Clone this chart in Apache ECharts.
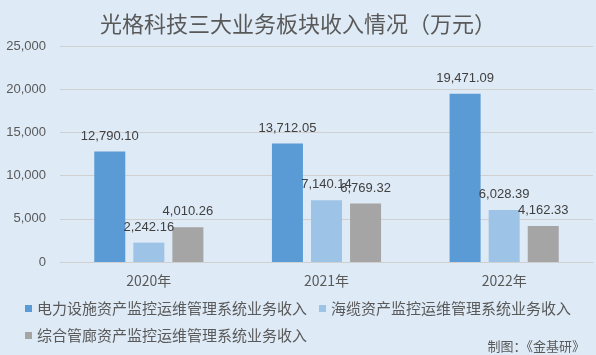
<!DOCTYPE html>
<html><head><meta charset="utf-8">
<script src="https://cdn.jsdelivr.net/npm/echarts@6/dist/echarts.min.js"></script>
<style>html,body{margin:0;padding:0;background:#deeaf6;}#c{width:596px;height:355px;}</style>
</head><body><div id="c"></div>
<script>
var categories = ['2020年', '2021年', '2022年'];
var seriesNames = ['电力设施资产监控运维管理系统业务收入', '海缆资产监控运维管理系统业务收入', '综合管廊资产监控运维管理系统业务收入'];
var powerValues = [12790.10, 13712.05, 19471.09];
var cableValues = [2242.16, 7140.14, 6028.39];
var tunnelValues = [4010.26, 6769.32, 4162.33];
var colors = ['#5b9bd5', '#9dc3e6', '#a5a5a5'];

var fontCN = '"Noto Sans CJK SC", "Microsoft YaHei", sans-serif';
var fontNum = '"Liberation Sans", Arial, sans-serif';
function fmt(v){ return v.toLocaleString('en-US',{minimumFractionDigits:2, maximumFractionDigits:2}); }
function mk(i, data){
  return {name: seriesNames[i], type:'bar', data:data, barWidth:31, barGap:'26%',
    itemStyle:{color:colors[i]},
    label:{show:true, position:'top', distance:9, color:'#404040', fontSize:13, fontFamily:fontNum,
      formatter:function(p){return fmt(p.value);}}};
}
var chart = echarts.init(document.getElementById('c'));
chart.setOption({
  backgroundColor:'#deeaf6',
  animation:false,
  title:[{text:'光格科技三大业务板块收入情况（万元）', left:'center', top:8,
    textStyle:{fontSize:22, fontWeight:'normal', color:'#595959', fontFamily:fontCN}},
    {text:'制图：《金基研》', right:6, top:335, textStyle:{fontSize:13, fontWeight:'normal', color:'#595959', fontFamily:fontCN}}],
  legend:[{data:[seriesNames[0], seriesNames[1]], left:20, top:296, itemWidth:7, itemHeight:7, icon:'rect', itemGap:12,
    textStyle:{fontSize:15, color:'#595959', fontFamily:fontCN}},
    {data:[seriesNames[2]], left:20, top:323, itemWidth:7, itemHeight:7, icon:'rect',
    textStyle:{fontSize:15, color:'#595959', fontFamily:fontCN}}],
  grid:{left:60, right:3, top:46, bottom:93},
  xAxis:{type:'category', data:categories,
    axisLine:{lineStyle:{color:'#d0d0d0'}}, axisTick:{show:false},
    axisLabel:{color:'#595959', fontSize:14, fontFamily:fontCN, margin:12}},
  yAxis:{type:'value', min:0, max:25000, interval:5000,
    axisLine:{show:false}, axisTick:{show:false},
    splitLine:{lineStyle:{color:'#d0d0d0'}},
    axisLabel:{color:'#595959', fontSize:13, fontFamily:fontNum, margin:14,
      formatter:function(v){return v.toLocaleString('en-US');}}},
  series:[mk(0, powerValues), mk(1, cableValues), mk(2, tunnelValues)]
});
</script></body></html>
